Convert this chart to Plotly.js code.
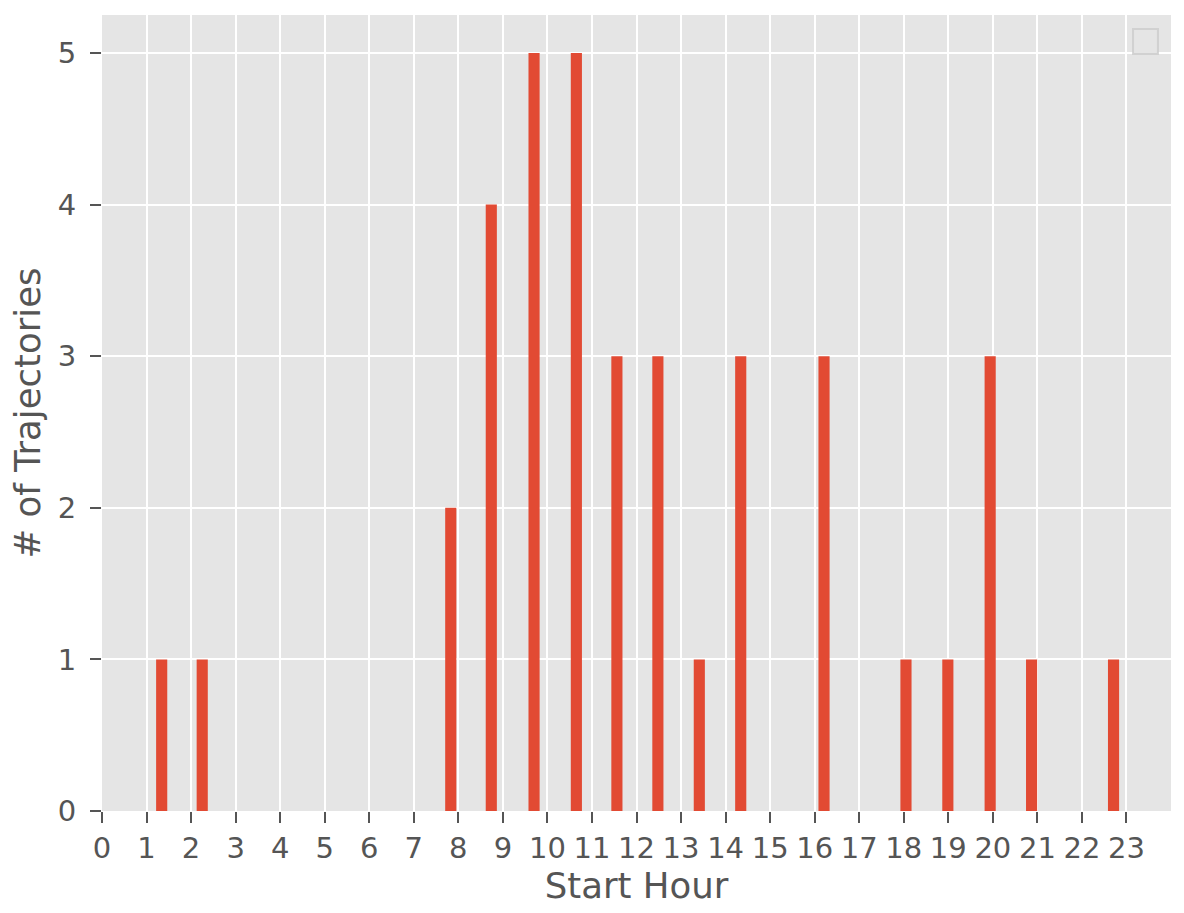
<!DOCTYPE html>
<html>
<head>
<meta charset="utf-8">
<script src="https://cdn.plot.ly/plotly-3.0.1.min.js"></script>
<style>
  html, body { margin: 0; padding: 0; background: #ffffff; }
  #chart { width: 1184px; height: 913px; }
</style>
</head>
<body>
<div id="chart"></div>
<script>
// Bin centres (start hour) and counts
const binCenters = [1.34, 2.25, 7.83, 8.74, 9.70, 10.65, 11.56, 12.48, 13.41, 14.34, 16.21, 18.05, 18.99, 19.94, 20.87, 22.71];
const trajectoryCounts = [1, 1, 2, 4, 5, 5, 3, 3, 1, 3, 3, 1, 1, 3, 1, 1];
const hourTicks = [0,1,2,3,4,5,6,7,8,9,10,11,12,13,14,15,16,17,18,19,20,21,22,23];
const countTicks = [0, 1, 2, 3, 4, 5];

const FONT = 'DejaVu Sans, sans-serif';
const GREY = '#555555';

const trace = {
  type: 'bar',
  x: binCenters,
  y: trajectoryCounts,
  width: 0.25,
  marker: { color: '#E24A33', line: { width: 0 } },
  hoverinfo: 'x+y'
};

const layout = {
  width: 1184,
  height: 913,
  margin: { l: 102, r: 13, t: 15, b: 102 },
  paper_bgcolor: '#ffffff',
  plot_bgcolor: '#E5E5E5',
  showlegend: false,
  font: { family: FONT, color: GREY },
  xaxis: {
    range: [0, 24],
    tickmode: 'array',
    tickvals: hourTicks,
    ticktext: hourTicks.map(String),
    showgrid: true,
    gridcolor: '#ffffff',
    gridwidth: 2,
    zeroline: false,
    showline: false,
    ticks: 'outside',
    ticklen: 11,
    tickwidth: 2,
    tickcolor: GREY,
    tickfont: { family: FONT, size: 29, color: GREY },
    title: { text: 'Start Hour', font: { family: FONT, size: 35.5, color: GREY }, standoff: 6 }
  },
  yaxis: {
    range: [0, 5.25],
    tickmode: 'array',
    tickvals: countTicks,
    ticktext: countTicks.map(String),
    showgrid: true,
    gridcolor: '#ffffff',
    gridwidth: 2,
    zeroline: false,
    showline: false,
    ticks: 'outside',
    ticklen: 11,
    tickwidth: 2,
    tickcolor: GREY,
    ticklabelstandoff: 8,
    tickfont: { family: FONT, size: 29, color: GREY },
    title: { text: '# of Trajectories', font: { family: FONT, size: 35.5, color: GREY }, standoff: 6 }
  },
  shapes: [{
    type: 'rect',
    xref: 'paper', yref: 'paper',
    x0: 0.9645, x1: 0.9878, y0: 0.951, y1: 0.9824,
    fillcolor: '#E5E5E5',
    line: { color: 'rgba(204,204,204,0.8)', width: 2 }
  }]
};

Plotly.newPlot('chart', [trace], layout, { displayModeBar: false, staticPlot: true });
</script>
</body>
</html>
